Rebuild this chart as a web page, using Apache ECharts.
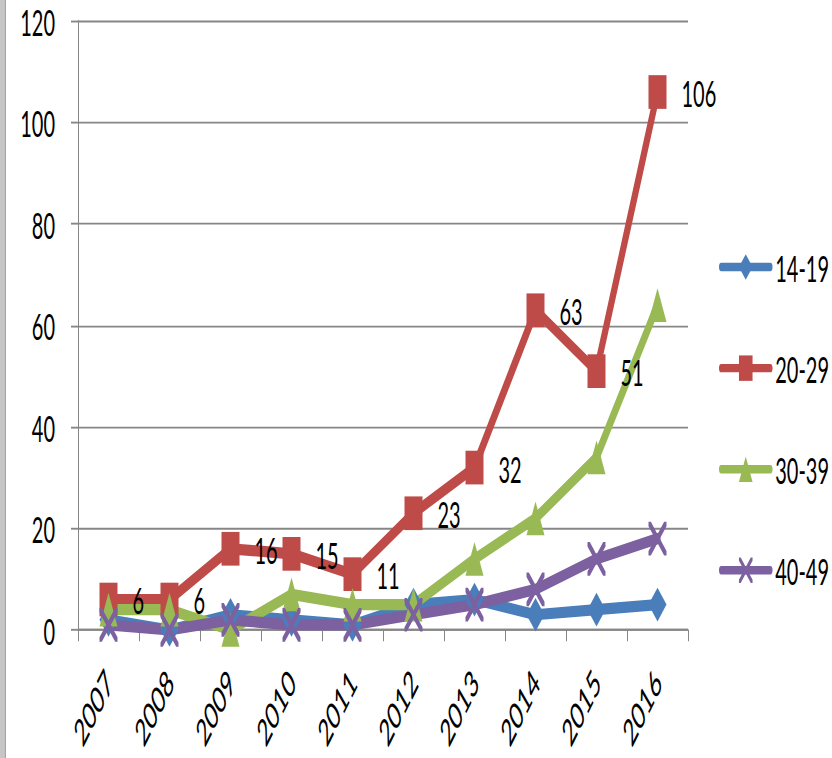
<!DOCTYPE html>
<html>
<head>
<meta charset="utf-8">
<script src="https://cdn.jsdelivr.net/npm/echarts@6/dist/echarts.min.js"></script>
<style>
  html, body { margin: 0; padding: 0; background: #fff; overflow: hidden; }
  #wrap { width: 832px; height: 758px; position: relative; overflow: hidden; }
  /* the chart is laid out flat and stretched vertically, like the exported sheet */
  #chart { width: 832px; height: 405px; transform-origin: 0 0; transform: scaleY(1.871605); }
</style>
</head>
<body>
<div id="wrap"><div id="chart"></div></div>
<script>
const years = ['2007', '2008', '2009', '2010', '2011', '2012', '2013', '2014', '2015', '2016'];
const seriesNames = ['14-19', '20-29', '30-39', '40-49'];
const age14to19 = [2, 0, 3, 2, 1, 5, 6, 3, 4, 5];
const age20to29 = [6, 6, 16, 15, 11, 23, 32, 63, 51, 106];
const age30to39 = [4, 4, 0, 7, 5, 5, 14, 22, 34, 64];
const age40to49 = [1, 0, 2, 1, 1, 3, 5, 8, 14, 18];

const FONT = 'Lato, "Liberation Sans", sans-serif';
const GREY = '#868686';
const crossSymbol = 'path://M0,0L1.3,0L10,8.7L10,10L8.7,10L0,1.3Z M8.7,0L10,0L10,1.3L1.3,10L0,10L0,8.7Z';

function lineSeries(name, data, color, symbol, extra) {
  return Object.assign({
    name: name,
    type: 'line',
    data: data,
    symbol: symbol,
    symbolSize: 18,
    showAllSymbol: true,
    itemStyle: { color: color },
    lineStyle: { color: color, width: 6, cap: 'round', join: 'round' },
    emphasis: { disabled: true }
  }, extra || {});
}

const chart = echarts.init(document.getElementById('chart'), null, { renderer: 'svg' });
chart.setOption({
  animation: false,
  backgroundColor: '#fff',
  textStyle: { fontFamily: FONT },
  graphic: [
    { type: 'rect', shape: { x: 0, y: 0, width: 4.5, height: 405 }, style: { fill: '#c6c6c6' } },
    { type: 'rect', shape: { x: 4.5, y: 0, width: 1.5, height: 405 }, style: { fill: '#a4a4a4' } }
  ],
  grid: { left: 78, right: 144, top: 11.2, bottom: 68.4, containLabel: false },
  legend: {
    orient: 'vertical',
    left: 719,
    top: 132.7,
    padding: 0,
    itemWidth: 49,
    itemHeight: 17,
    itemGap: 34,
    data: seriesNames,
    lineStyle: { width: 4.5, cap: 'round' },
    textStyle: { fontFamily: FONT, fontSize: 20, color: '#000' }
  },
  xAxis: {
    type: 'category',
    data: years,
    boundaryGap: true,
    axisLine: { lineStyle: { color: GREY, width: 1 } },
    axisTick: { show: true, length: 6, lineStyle: { color: GREY } },
    axisLabel: { rotate: 47, margin: 24, fontFamily: FONT, fontSize: 20, color: '#000' },
    splitLine: { show: false }
  },
  yAxis: {
    type: 'value',
    min: 0,
    max: 120,
    interval: 20,
    axisLine: { show: true, lineStyle: { color: GREY, width: 1 } },
    axisTick: { show: true, length: 7, lineStyle: { color: GREY } },
    axisLabel: { margin: 23, fontFamily: FONT, fontSize: 20, color: '#000' },
    splitLine: { show: true, lineStyle: { color: GREY, width: 1 } }
  },
  series: [
    lineSeries(seriesNames[0], age14to19, '#4A7EBB', 'diamond'),
    lineSeries(seriesNames[1], age20to29, '#BE4B48', 'rect', {
      label: { show: true, position: 'right', distance: 15, fontFamily: FONT, fontSize: 20, color: '#000' }
    }),
    lineSeries(seriesNames[2], age30to39, '#98B954', 'triangle'),
    lineSeries(seriesNames[3], age40to49, '#7D60A0', crossSymbol)
  ]
});
</script>
</body>
</html>
